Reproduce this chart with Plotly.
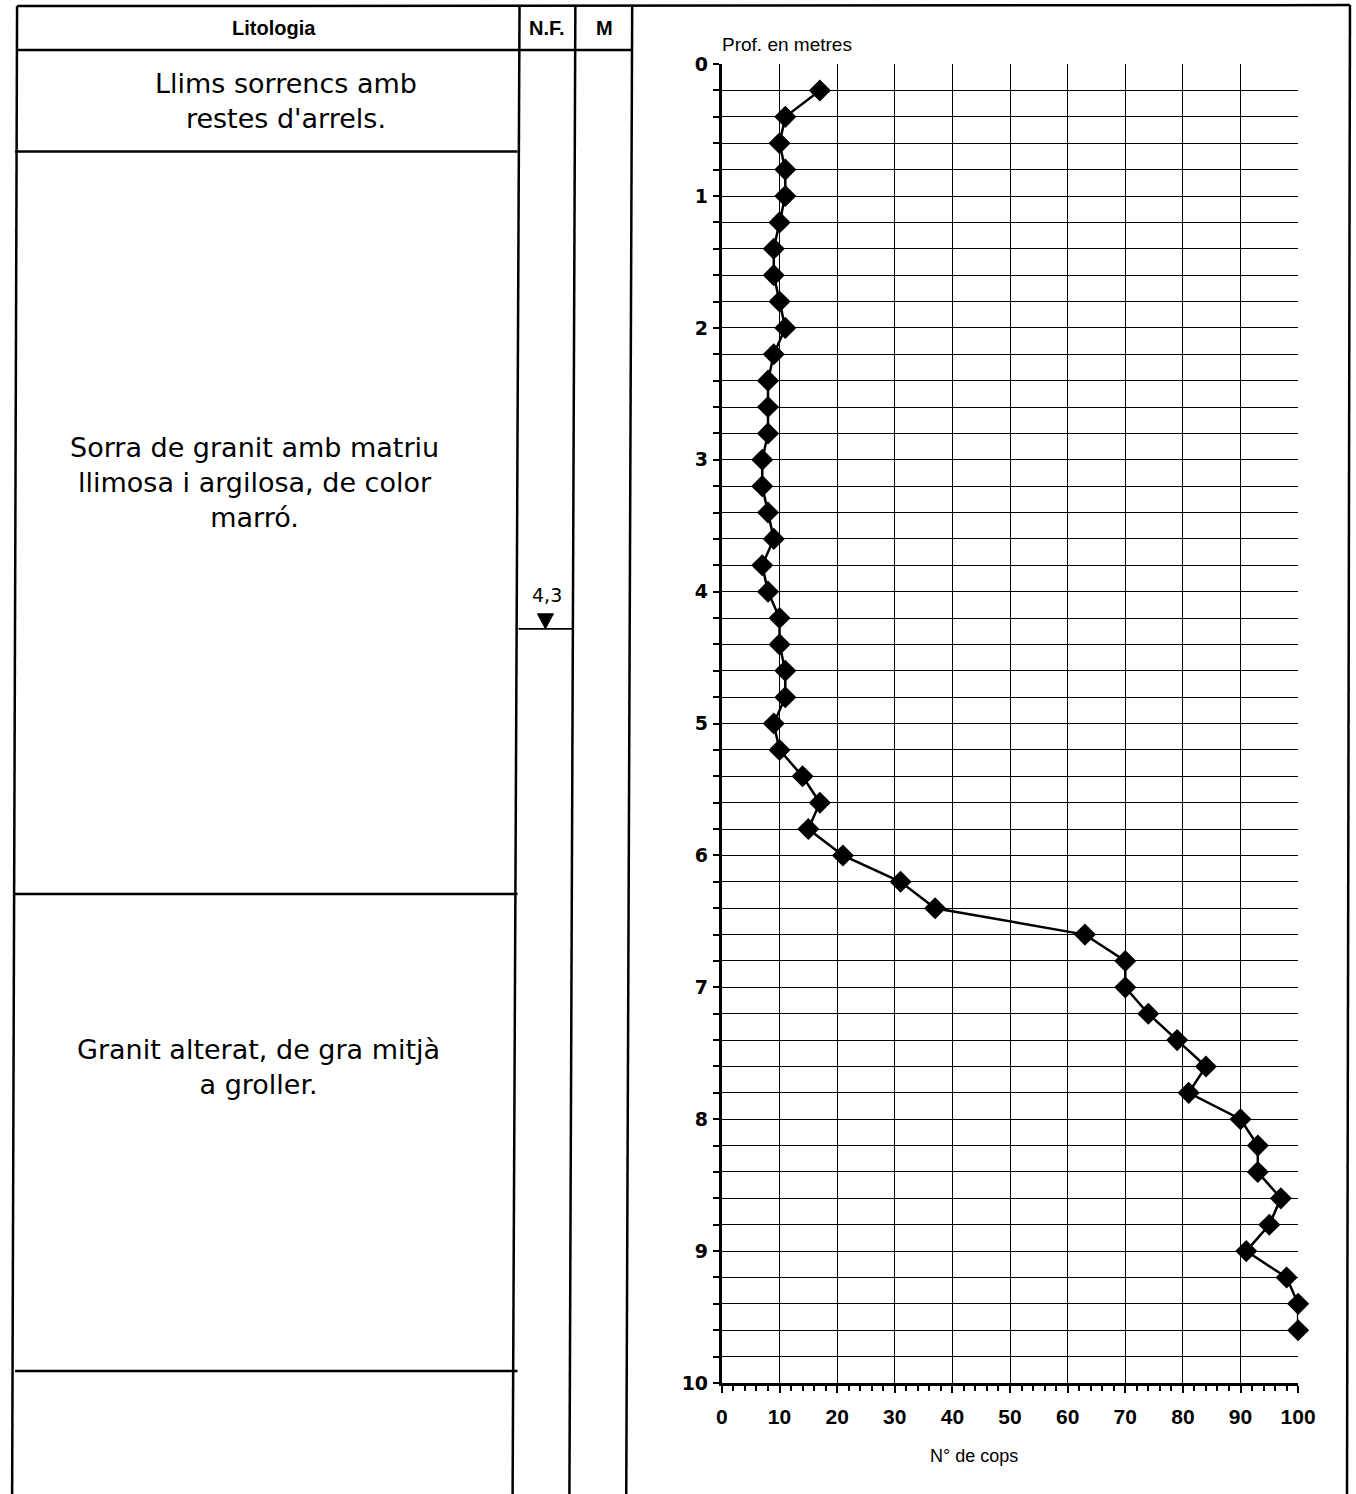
import plotly.graph_objects as go

# Dynamic penetration test: depth (m) and blow count
depth_m = [0.2, 0.4, 0.6, 0.8, 1.0, 1.2, 1.4, 1.6, 1.8, 2.0,
           2.2, 2.4, 2.6, 2.8, 3.0, 3.2, 3.4, 3.6, 3.8, 4.0,
           4.2, 4.4, 4.6, 4.8, 5.0, 5.2, 5.4, 5.6, 5.8, 6.0,
           6.2, 6.4, 6.6, 6.8, 7.0, 7.2, 7.4, 7.6, 7.8, 8.0,
           8.2, 8.4, 8.6, 8.8, 9.0, 9.2, 9.4, 9.6]
blows = [17, 11, 10, 11, 11, 10, 9, 9, 10, 11,
         9, 8, 8, 8, 7, 7, 8, 9, 7, 8,
         10, 10, 11, 11, 9, 10, 14, 17, 15, 21,
         31, 37, 63, 70, 70, 74, 79, 84, 81, 90,
         93, 93, 97, 95, 91, 98, 100, 100]

# Lithology log
layer_bottom_m = [0.7, 6.3, 9.9]
layer_text = ["Llims sorrencs amb<br>restes d'arrels.",
              "Sorra de granit amb matriu<br>llimosa i argilosa, de color<br>marró.",
              "Granit alterat, de gra mitjà<br>a groller."]
water_table_m = 4.3
water_table_label = "4,3"

x_ticks = list(range(0, 101, 10))
y_ticks = list(range(0, 11))

# Sheet layout is specified in sheet units; K converts them to figure px.
W, H = 1370, 1510
K = 1.0147
PAD = 8
DX, DY = 4, -2


def px(x):
    return ((x + DX) * K - PAD) / W


def py(y):
    return 1 - ((y + DY) * K - PAD) / H


fig = go.Figure()
fig.add_trace(go.Scatter(
    x=blows, y=depth_m, mode="lines+markers",
    line=dict(color="black", width=2.5),
    marker=dict(symbol="diamond", size=17, color="black"),
    cliponaxis=False,
    showlegend=False, hoverinfo="x+y",
))

grid_col = "black"
fig.update_layout(
    width=W, height=H,
    margin=dict(l=0, r=0, t=0, b=0),
    paper_bgcolor="white", plot_bgcolor="white",
    xaxis=dict(
        domain=[px(722), px(1300)], range=[0, 100],
        tickvals=x_ticks, ticktext=[str(v) for v in x_ticks],
        showgrid=True, gridcolor=grid_col, gridwidth=1.3,
        zeroline=False, showline=True, linecolor="black", linewidth=3,
        ticks="outside", ticklen=7, tickwidth=2, tickcolor="black",
        minor=dict(dtick=2, ticks="outside", ticklen=5, tickwidth=2,
                   tickcolor="black", showgrid=False),
        tickfont=dict(family="Liberation Sans", size=21, color="black",
                      weight="bold"),
        ticklabelstandoff=6,
        fixedrange=True,
    ),
    yaxis=dict(
        domain=[py(1382), py(63)], range=[10, 0],
        tickvals=y_ticks, ticktext=[str(v) for v in y_ticks],
        showgrid=True, gridcolor=grid_col, gridwidth=1.3,
        zeroline=False, showline=True, linecolor="black", linewidth=3,
        ticks="outside", ticklen=6, tickwidth=2, tickcolor="black",
        minor=dict(dtick=0.2, ticks="outside", ticklen=6, tickwidth=2,
                   tickcolor="black", showgrid=True, gridcolor=grid_col,
                   gridwidth=1.3),
        tickfont=dict(family="DejaVu Sans", size=19, color="black",
                      weight="bold"),
        ticklabelstandoff=1,
        fixedrange=True,
    ),
    # depth scale for the lithology columns
    yaxis2=dict(overlaying="y", visible=False, domain=[py(1382), py(63)],
                range=[9.99, 0.04], fixedrange=True),
)

shapes = []
line_style = dict(color="black", width=2.5)

# table frame: header and column dividers
frame = [((15, 5), (1352, 4)), ((15, 49), (632, 49)),
         ((15, 5), (10, 1505)), ((519, 5), (512, 1505)),
         ((575, 5), (569, 1505)), ((632, 5), (626, 1505)),
         ((1352, 4), (1349, 1505))]
for (x0, y0), (x1, y1) in frame:
    shapes.append(dict(type="line", xref="paper", yref="paper",
                       x0=px(x0), y0=py(y0), x1=px(x1), y1=py(y1),
                       line=line_style, layer="above"))

# layer boundaries
for d in layer_bottom_m:
    shapes.append(dict(type="line", xref="paper", yref="y2",
                       x0=px(13), x1=px(517), y0=d, y1=d,
                       line=line_style, layer="above"))

# water table level and its marker
shapes.append(dict(type="line", xref="paper", yref="y2",
                   x0=px(518), x1=px(572), y0=water_table_m, y1=water_table_m,
                   line=dict(color="black", width=1.8), layer="above"))
shapes.append(dict(type="path", xref="paper", yref="y2",
                   xsizemode="pixel", ysizemode="pixel",
                   xanchor=px(545), yanchor=water_table_m,
                   path="M -8,15 L 8,15 L 0,0 Z",
                   fillcolor="black", line=dict(color="black", width=1),
                   layer="above"))

fig.update_layout(shapes=shapes)

annotations = []
hdr_font = dict(family="Liberation Sans", size=20, color="black",
                weight="bold")
for txt, x in [("Litologia", 273), ("N.F.", 547), ("M", 604)]:
    annotations.append(dict(text=txt, x=px(x), y=py(27), xref="paper",
                            yref="paper", showarrow=False, font=hdr_font,
                            xanchor="center", yanchor="middle"))

body_font = dict(family="DejaVu Sans", size=27, color="black")
text_pos = [(285, 100), (253, 481), (257, 1066)]
for txt, (x, y) in zip(layer_text, text_pos):
    annotations.append(dict(text=txt, x=px(x), y=py(y), xref="paper",
                            yref="paper", showarrow=False, font=body_font,
                            xanchor="center", yanchor="middle",
                            align="center"))

annotations.append(dict(text=water_table_label, x=px(547), y=water_table_m,
                        xref="paper", yref="y2", showarrow=False,
                        xanchor="center", yanchor="bottom", yshift=21,
                        font=dict(family="DejaVu Sans", size=19,
                                  color="black")))

annotations.append(dict(text="Prof. en metres", x=px(720), y=py(43),
                        xref="paper", yref="paper", showarrow=False,
                        xanchor="left", yanchor="middle",
                        font=dict(family="Liberation Sans", size=19,
                                  color="black")))
annotations.append(dict(text="N° de cops", x=px(975), y=py(1455),
                        xref="paper", yref="paper", showarrow=False,
                        xanchor="center", yanchor="middle",
                        font=dict(family="Liberation Sans", size=18,
                                  color="black")))
fig.update_layout(annotations=annotations)

fig.write_html("out.html")
